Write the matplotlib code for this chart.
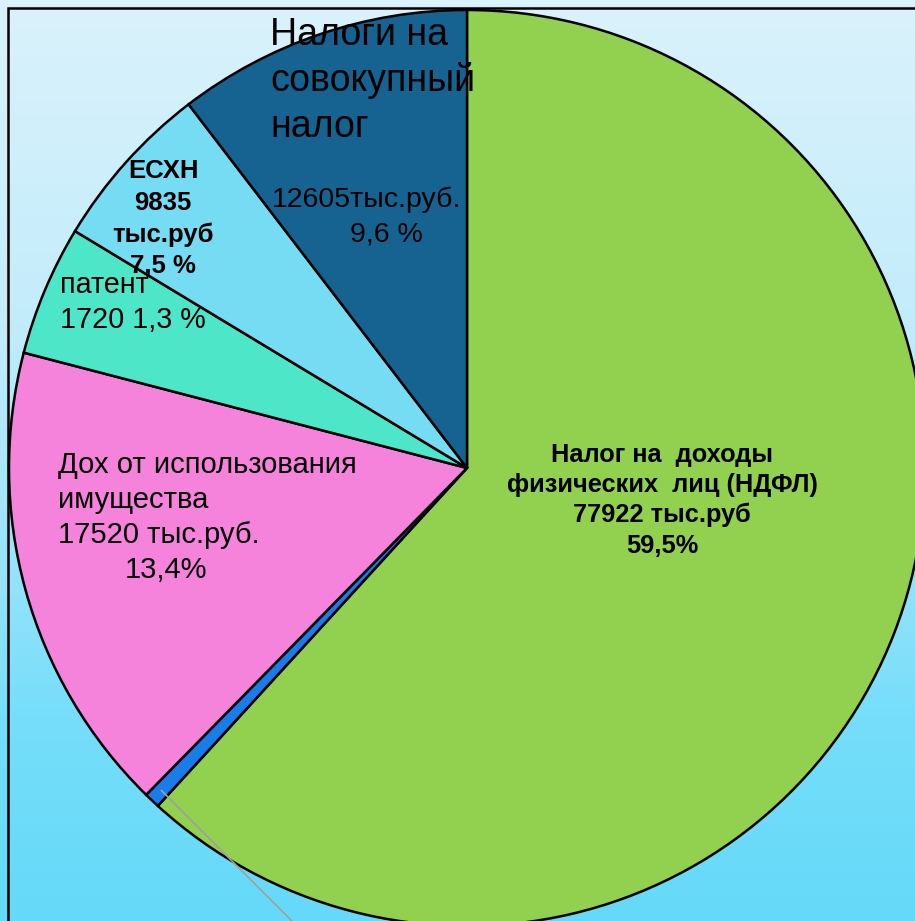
import numpy as np
import matplotlib
matplotlib.use("Agg")
import matplotlib.pyplot as plt
from matplotlib.colors import LinearSegmentedColormap
from matplotlib.patches import Rectangle

plt.rcParams['font.family'] = ['Liberation Sans', 'DejaVu Sans']

# ---- data (slice shares, clockwise from 12 o'clock) ----
categories = ["НДФЛ", "прочие", "Дох от использования имущества", "патент", "ЕСХН",
              "Налоги на совокупный налог"]
shares = [61.8, 0.56, 16.7, 4.6, 5.95, 10.4]
colors = ["#92D050", "#1A7CEB", "#F582DB", "#4DE6C8", "#76DCF4", "#166392"]

W, H = 915, 921
fig = plt.figure(figsize=(W / 100, H / 100), dpi=100)
ax = fig.add_axes([0, 0, 1, 1])

def py(y):  # pixel row -> data y
    return H - y

# background gradient (top light, bottom cyan)
bg = LinearSegmentedColormap.from_list(
    "bg", [(0.0, "#DAF2FC"), (0.35, "#C3ECFB"), (0.55, "#A4E5FA"),
           (0.78, "#76DEFA"), (1.0, "#65D9F9")])
grad = np.linspace(0, 1, 256).reshape(-1, 1)
ax.imshow(grad, cmap=bg, extent=[0, W, 0, H], aspect='auto', zorder=0, origin='upper')

# frame
ax.add_patch(Rectangle((8, -20), 1200, py(8) + 20, fill=False, ec='black', lw=1.8, zorder=1))

cx, cy, R = 467, py(468), 458
wedges, _ = ax.pie(shares, colors=colors, startangle=90, counterclock=False,
                   center=(cx, cy), radius=R, frame=True,
                   wedgeprops=dict(edgecolor='black', linewidth=1.8))
for w in wedges:
    w.set_zorder(2)
ax.set_xlim(0, W)
ax.set_ylim(0, H)
ax.set_aspect('equal')
ax.axis('off')

# leader line from the tiny slice
wb = wedges[1]
mid = np.deg2rad((wb.theta1 + wb.theta2) / 2)
x0, y0 = cx + 0.97 * R * np.cos(mid), cy + 0.97 * R * np.sin(mid)
ax.plot([x0, x0 + 300], [y0, y0 - 300], color='#A0A0A0', lw=1.2, zorder=3)

def lines(x, baselines, texts, size, weight='normal', ha='left'):
    for b, t in zip(baselines, texts):
        ax.text(x, py(b), t, fontsize=size, fontweight=weight, ha=ha, va='baseline',
                color='black', zorder=5)

# dark blue
lines(270, [45, 91, 137], ["Налоги на", "совокупный", "налог"], 27)
lines(367, [207], ["12605тыс.руб."], 20.5, ha='center')
lines(386, [241], ["9,6 %"], 20.5, ha='center')
# NDFL
lines(662, [462, 492, 522, 553],
      ["Налог на  доходы", "физических  лиц (НДФЛ)", "77922 тыс.руб", "59,5%"],
      18.3, weight='bold', ha='center')
# pink
lines(58, [473, 508, 543], ["Дох от использования", "имущества", "17520 тыс.руб."], 21)
lines(125, [578], ["13,4%"], 21)
# patent
lines(60, [293, 328], ["патент", "1720 1,3 %"], 20.7)
# ESKHN
lines(163, [178, 210, 242, 273], ["ЕСХН", "9835", "тыс.руб", "7,5 %"], 18.5,
      weight='bold', ha='center')

fig.savefig("out.png", dpi=100)
